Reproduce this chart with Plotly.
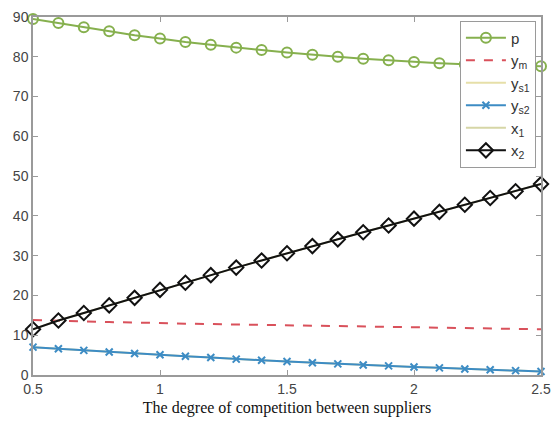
import plotly.graph_objects as go

x = [0.5, 0.6, 0.7, 0.8, 0.9, 1.0, 1.1, 1.2, 1.3, 1.4, 1.5,
     1.6, 1.7, 1.8, 1.9, 2.0, 2.1, 2.2, 2.3, 2.4, 2.5]
p = [89.5, 88.5, 87.4, 86.4, 85.4, 84.6, 83.7, 83.0, 82.3, 81.7, 81.1,
     80.5, 80.0, 79.5, 79.1, 78.7, 78.4, 78.1, 77.9, 77.7, 77.6]
ym = [13.8, 13.6, 13.5, 13.3, 13.2, 13.0, 12.9, 12.8, 12.7, 12.6, 12.5,
      12.4, 12.3, 12.2, 12.1, 12.0, 11.9, 11.8, 11.7, 11.6, 11.5]
# symmetric suppliers: supplier 1 curves coincide with supplier 2 (hidden beneath)
ys1 = [7.0, 6.6, 6.2, 5.8, 5.4, 5.1, 4.7, 4.4, 4.0, 3.7, 3.4,
       3.1, 2.8, 2.5, 2.3, 2.0, 1.8, 1.5, 1.3, 1.1, 0.9]
ys2 = [7.0, 6.6, 6.2, 5.8, 5.4, 5.1, 4.7, 4.4, 4.0, 3.7, 3.4,
       3.1, 2.8, 2.5, 2.3, 2.0, 1.8, 1.5, 1.3, 1.1, 0.9]
x1 = [11.5, 13.7, 15.6, 17.5, 19.4, 21.4, 23.2, 25.1, 27.0, 28.8, 30.6,
      32.4, 34.1, 35.9, 37.6, 39.3, 41.0, 42.8, 44.5, 46.2, 48.0]
x2 = [11.5, 13.7, 15.6, 17.5, 19.4, 21.4, 23.2, 25.1, 27.0, 28.8, 30.6,
      32.4, 34.1, 35.9, 37.6, 39.3, 41.0, 42.8, 44.5, 46.2, 48.0]

fig = go.Figure()
fig.add_trace(go.Scatter(x=x, y=p, name="p", mode="lines+markers",
                         line=dict(color="#86B04E", width=2),
                         marker=dict(symbol="circle-open", size=10, color="#86B04E", line=dict(width=2))))
fig.add_trace(go.Scatter(x=x, y=ym, name="y<sub>m</sub>", mode="lines",
                         line=dict(color="#D9515B", width=2, dash="dash")))
fig.add_trace(go.Scatter(x=x, y=ys1, name="y<sub>s1</sub>", mode="lines",
                         line=dict(color="#E6DFA8", width=2)))
fig.add_trace(go.Scatter(x=x, y=ys2, name="y<sub>s2</sub>", mode="lines+markers",
                         line=dict(color="#3D8CC4", width=2),
                         marker=dict(symbol="x-thin-open", size=7, color="#3D8CC4", line=dict(width=2, color="#3D8CC4"))))
fig.add_trace(go.Scatter(x=x, y=x1, name="x<sub>1</sub>", mode="lines",
                         line=dict(color="#D6D6A6", width=2)))
fig.add_trace(go.Scatter(x=x, y=x2, name="x<sub>2</sub>", mode="lines+markers",
                         line=dict(color="#111111", width=2),
                         marker=dict(symbol="diamond-open", size=11, color="#111111", line=dict(width=2))))

fig.update_traces(cliponaxis=False)

axis_common = dict(showline=True, linecolor="#9A9A9A", linewidth=1.5, mirror="ticks",
                   ticks="inside", ticklen=5, tickcolor="#9A9A9A", showgrid=False, zeroline=False,
                   tickfont=dict(family="Arial, Liberation Sans, sans-serif", size=14, color="#444444"))

fig.update_xaxes(range=[0.5, 2.5], tickvals=[0.5, 1, 1.5, 2, 2.5], ticktext=["0.5", "1", "1.5", "2", "2.5"],
                 title=dict(text="The degree of competition between suppliers",
                            font=dict(family="Liberation Serif, Times New Roman, serif", size=16, color="#111111"),
                            standoff=6),
                 **axis_common)
fig.update_yaxes(range=[0, 90], tickvals=list(range(0, 91, 10)), **axis_common)

fig.update_layout(
    width=560, height=429,
    margin=dict(l=33, r=9, t=16, b=54),
    plot_bgcolor="white", paper_bgcolor="white",
    legend=dict(x=0.99, y=0.99, xanchor="right", yanchor="top",
                bgcolor="white", bordercolor="#9A9A9A", borderwidth=1,
                font=dict(family="Arial, Liberation Sans, sans-serif", size=15, color="#333333"),
                tracegroupgap=0, itemwidth=40),
)

fig.write_html("out.html", config={"displayModeBar": False},
               post_script="document.body.style.margin='0';")
